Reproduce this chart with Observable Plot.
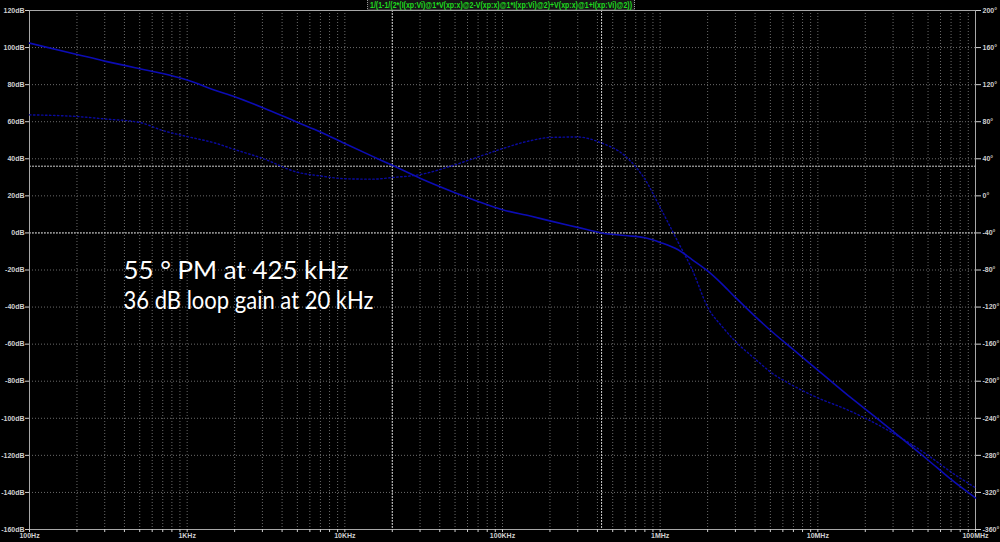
<!DOCTYPE html>
<html><head><meta charset="utf-8">
<script src="https://cdn.jsdelivr.net/npm/d3@7"></script>
<script src="https://cdn.jsdelivr.net/npm/@observablehq/plot@0.6"></script>
<style>
html,body{margin:0;padding:0;background:#000;}
#chart{width:1000px;height:542px;overflow:hidden;background:#000;}
</style></head>
<body><div id="chart"></div>
<script>
const titleText = "1/(1-1/(2*(I(xp:Vi)@1*V(xp:x)@2-V(xp:x)@1*I(xp:Vi)@2)+V(xp:x)@1+I(xp:Vi)@2))";
const freqs = [100,200,300,500,700,1e3,1.5e3,2e3,3e3,5e3,7e3,1e4,1.5e4,2e4,3e4,5e4,7e4,1e5,1.5e5,2e5,3e5,4.25e5,6e5,8e5,1e6,1.3e6,1.6e6,2e6,2.5e6,3e6,4e6,5e6,7e6,1e7,1.5e7,2e7,3e7,5e7,7e7,1e8];
const magnitudeDb = [102.4,96.3,92.7,88.6,86.0,82.5,77.0,73.5,67.7,59.7,54.5,48.2,41.3,36.5,29.5,21.7,17.0,12.5,9.1,6.5,3.0,0,-1.4,-2.6,-5.1,-9.1,-14.5,-20.5,-28,-34.8,-45,-52.5,-63,-74,-86.5,-95,-107,-122.5,-133,-143];
const phaseDeg = [87.4,85.6,83,79.2,70.5,64,57,50,40.5,25.5,21.5,18.5,18,19.8,23,33.5,42,51,59.5,63,63.5,57,43,18,-12.5,-50,-80,-120,-142,-157,-176,-190,-205,-218,-230,-240,-256,-280,-298,-315];
const dbTicks = [-160,-140,-120,-100,-80,-60,-40,-20,0,20,40,60,80,100,120];
const degTicks = [-360,-320,-280,-240,-200,-160,-120,-80,-40,0,40,80,120,160,200];
const decadeFreqs = [100,1e3,1e4,1e5,1e6,1e7,1e8];
const decadeLabels = ["100Hz","1KHz","10KHz","100KHz","1MHz","10MHz","100MHz"];
const cursorFreqs = [20000, 425000];
const cursorDb = [36, 0];
const annotation = ["55 ° PM at 425 kHz", "36 dB loop gain at 20 kHz"];

// phase axis shares the dB pixel grid: 200° ↔ 120 dB, -360° ↔ -160 dB
const degToDb = d => -160 + (d + 360) / 2;
const gridFreqs = [];
decadeFreqs.slice(0, -1).forEach(f => { for (let k = 1; k < 10; k++) gridFreqs.push(f * k); });
gridFreqs.push(1e8);

const mag = freqs.map((f, i) => ({f, v: magnitudeDb[i]}));
const ph = freqs.map((f, i) => ({f, v: degToDb(phaseDeg[i])}));
const degLabel = new Map(dbTicks.map((t, i) => [t, degTicks[i] + "°"]));
const decLabel = new Map(decadeFreqs.map((f, i) => [f, decadeLabels[i]]));

const plot = Plot.plot({
  width: 1000, height: 542,
  marginLeft: 29, marginRight: 25, marginTop: 10, marginBottom: 13,
  style: {background: "#000", fontFamily: "Liberation Sans, sans-serif", fontSize: "7px", fontWeight: "bold"},
  x: {type: "log", domain: [100, 1e8], axis: null, label: null},
  y: {domain: [-160, 120], axis: null, label: null},
  marks: [
    Plot.ruleX(gridFreqs, {stroke: "#6a6a6a", strokeDasharray: "1,2"}),
    Plot.ruleY(dbTicks, {stroke: "#6a6a6a", strokeDasharray: "1,2"}),
    Plot.ruleX(cursorFreqs, {stroke: "#c8c8c8", strokeDasharray: "2,1"}),
    Plot.ruleY(cursorDb, {stroke: "#c8c8c8", strokeDasharray: "2,1"}),
    Plot.frame({stroke: "#a8a8a8"}),
    Plot.axisY({ticks: dbTicks, anchor: "left", label: null, tickSize: 4, tickPadding: 1, tickFormat: d => d + "dB", color: "#d0d0d0", strokeOpacity: 1}),
    Plot.axisY({ticks: dbTicks, anchor: "right", label: null, tickSize: 5, tickPadding: 2, tickFormat: d => degLabel.get(d), color: "#d0d0d0", strokeOpacity: 1}),
    Plot.axisX({ticks: gridFreqs, anchor: "bottom", label: null, tickSize: 3, tickPadding: 1, tickFormat: d => decLabel.get(d) || "", color: "#d0d0d0", strokeOpacity: 1}),
    Plot.line(ph, {x: "f", y: "v", stroke: "#0a0aa0", strokeWidth: 1.4, strokeDasharray: "1.5,2.5", curve: "monotone-x"}),
    Plot.line(mag, {x: "f", y: "v", stroke: "#0c0cb4", strokeWidth: 1.6, curve: "monotone-x"}),
    Plot.text([annotation.join("\n")], {frameAnchor: "top-left", dx: 94, dy: 247, textAnchor: "start", lineAnchor: "top", lineHeight: 1.2, fill: "#ffffff", fontSize: 25, fontFamily: "Lato, sans-serif", fontWeight: "normal", className: "annot"})
  ]
});
document.getElementById("chart").appendChild(plot);

// fit annotation line widths to the reference
const targetWidths = [225, 250];
d3.select(plot).selectAll(".annot tspan").each(function(_, i) {
  d3.select(this).attr("textLength", targetWidths[i]).attr("lengthAdjust", "spacingAndGlyphs");
});

// title box (LTspice trace expression)
const svg = d3.select(plot);
const g = svg.append("g");
g.append("rect").attr("x", 367.5).attr("y", -1).attr("width", 267).attr("height", 11)
  .attr("fill", "#141414").attr("stroke", "#9a9a9a").attr("stroke-dasharray", "1,1");
g.append("text").attr("x", 501).attr("y", 8).attr("text-anchor", "middle")
  .attr("textLength", 262).attr("lengthAdjust", "spacingAndGlyphs")
  .attr("font-family", "Liberation Sans, sans-serif").attr("font-weight", "bold").attr("font-size", 8.5)
  .attr("fill", "#1fdc1f").text(titleText);
</script>
</body></html>
